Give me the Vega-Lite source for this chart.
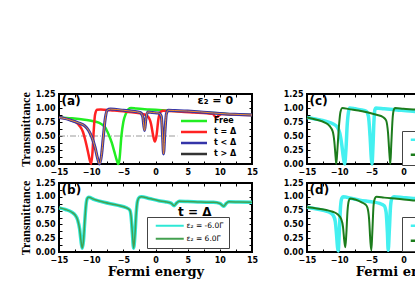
{
"$schema":"https://vega.github.io/schema/vega-lite/v6.json",
"autosize":{"type":"pad"},
"padding":{"left":18,"top":89,"right":0,"bottom":0},
"bounds":"flush",
"columns":2,
"spacing":{"row":19,"column":55},
"datasets":{
"a":[
{"s":"Free","x":-15,"y":0.83},{"s":"Free","x":-13,"y":0.815},{"s":"Free","x":-11,"y":0.79},{"s":"Free","x":-9.5,"y":0.76},{"s":"Free","x":-8.5,"y":0.72},{"s":"Free","x":-7.8,"y":0.65},{"s":"Free","x":-7.3,"y":0.53},{"s":"Free","x":-6.8,"y":0.38},{"s":"Free","x":-6.4,"y":0.22},{"s":"Free","x":-6.0,"y":0.06},{"s":"Free","x":-5.8,"y":0.0},{"s":"Free","x":-5.6,"y":0.08},{"s":"Free","x":-5.3,"y":0.5},{"s":"Free","x":-5.0,"y":0.75},{"s":"Free","x":-4.6,"y":0.9},{"s":"Free","x":-4.2,"y":0.98},{"s":"Free","x":-3.8,"y":1.0},{"s":"Free","x":-3,"y":0.99},{"s":"Free","x":-1,"y":0.975},{"s":"Free","x":1,"y":0.96},{"s":"Free","x":3,"y":0.945},{"s":"Free","x":5,"y":0.935},{"s":"Free","x":7,"y":0.925},{"s":"Free","x":9,"y":0.91},{"s":"Free","x":11,"y":0.895},{"s":"Free","x":13,"y":0.885},{"s":"Free","x":15,"y":0.875},
{"s":"t = Δ","x":-15,"y":0.83},{"s":"t = Δ","x":-14,"y":0.81},{"s":"t = Δ","x":-13,"y":0.78},{"s":"t = Δ","x":-12.3,"y":0.74},{"s":"t = Δ","x":-11.8,"y":0.68},{"s":"t = Δ","x":-11.3,"y":0.58},{"s":"t = Δ","x":-10.9,"y":0.42},{"s":"t = Δ","x":-10.5,"y":0.22},{"s":"t = Δ","x":-10.2,"y":0.06},{"s":"t = Δ","x":-10.0,"y":0.0},{"s":"t = Δ","x":-9.8,"y":0.2},{"s":"t = Δ","x":-9.6,"y":0.6},{"s":"t = Δ","x":-9.4,"y":0.88},{"s":"t = Δ","x":-9.1,"y":0.97},{"s":"t = Δ","x":-8.5,"y":0.975},{"s":"t = Δ","x":-7,"y":0.96},{"s":"t = Δ","x":-5,"y":0.94},{"s":"t = Δ","x":-3,"y":0.915},{"s":"t = Δ","x":-2,"y":0.895},{"s":"t = Δ","x":-1.2,"y":0.85},{"s":"t = Δ","x":-0.7,"y":0.72},{"s":"t = Δ","x":-0.35,"y":0.5},{"s":"t = Δ","x":-0.1,"y":0.4},{"s":"t = Δ","x":0.15,"y":0.5},{"s":"t = Δ","x":0.45,"y":0.8},{"s":"t = Δ","x":0.8,"y":0.93},{"s":"t = Δ","x":1.2,"y":0.95},{"s":"t = Δ","x":2,"y":0.945},{"s":"t = Δ","x":4,"y":0.935},{"s":"t = Δ","x":6,"y":0.92},{"s":"t = Δ","x":8,"y":0.905},{"s":"t = Δ","x":8.9,"y":0.895},{"s":"t = Δ","x":9.4,"y":0.83},{"s":"t = Δ","x":9.8,"y":0.86},{"s":"t = Δ","x":10.3,"y":0.895},{"s":"t = Δ","x":12,"y":0.885},{"s":"t = Δ","x":15,"y":0.875},
{"s":"t < Δ","x":-15,"y":0.83},{"s":"t < Δ","x":-14,"y":0.81},{"s":"t < Δ","x":-13,"y":0.775},{"s":"t < Δ","x":-12,"y":0.735},{"s":"t < Δ","x":-11,"y":0.68},{"s":"t < Δ","x":-10.4,"y":0.6},{"s":"t < Δ","x":-9.9,"y":0.48},{"s":"t < Δ","x":-9.4,"y":0.3},{"s":"t < Δ","x":-9.0,"y":0.1},{"s":"t < Δ","x":-8.7,"y":0.0},{"s":"t < Δ","x":-8.4,"y":0.15},{"s":"t < Δ","x":-8.1,"y":0.5},{"s":"t < Δ","x":-7.8,"y":0.82},{"s":"t < Δ","x":-7.5,"y":0.96},{"s":"t < Δ","x":-7.0,"y":0.98},{"s":"t < Δ","x":-5,"y":0.96},{"s":"t < Δ","x":-3.5,"y":0.94},{"s":"t < Δ","x":-2.4,"y":0.92},{"s":"t < Δ","x":-2.0,"y":0.85},{"s":"t < Δ","x":-1.7,"y":0.6},{"s":"t < Δ","x":-1.5,"y":0.8},{"s":"t < Δ","x":-1.2,"y":0.93},{"s":"t < Δ","x":-0.5,"y":0.92},{"s":"t < Δ","x":0.5,"y":0.91},{"s":"t < Δ","x":0.9,"y":0.85},{"s":"t < Δ","x":1.1,"y":0.5},{"s":"t < Δ","x":1.25,"y":0.18},{"s":"t < Δ","x":1.45,"y":0.55},{"s":"t < Δ","x":1.7,"y":0.9},{"s":"t < Δ","x":2.0,"y":0.96},{"s":"t < Δ","x":3,"y":0.955},{"s":"t < Δ","x":5,"y":0.945},{"s":"t < Δ","x":7,"y":0.93},{"s":"t < Δ","x":9,"y":0.91},{"s":"t < Δ","x":11,"y":0.895},{"s":"t < Δ","x":13,"y":0.885},{"s":"t < Δ","x":15,"y":0.875}
],
"b":[
{"s":"ε₂ = -6.0Γ","x":-15,"y":0.8},{"s":"ε₂ = -6.0Γ","x":-14,"y":0.77},{"s":"ε₂ = -6.0Γ","x":-13,"y":0.72},{"s":"ε₂ = -6.0Γ","x":-12.5,"y":0.67},{"s":"ε₂ = -6.0Γ","x":-12.1,"y":0.58},{"s":"ε₂ = -6.0Γ","x":-11.8,"y":0.42},{"s":"ε₂ = -6.0Γ","x":-11.6,"y":0.22},{"s":"ε₂ = -6.0Γ","x":-11.4,"y":0.07},{"s":"ε₂ = -6.0Γ","x":-11.2,"y":0.2},{"s":"ε₂ = -6.0Γ","x":-11.0,"y":0.55},{"s":"ε₂ = -6.0Γ","x":-10.8,"y":0.85},{"s":"ε₂ = -6.0Γ","x":-10.6,"y":0.97},{"s":"ε₂ = -6.0Γ","x":-10.4,"y":0.99},{"s":"ε₂ = -6.0Γ","x":-9.5,"y":0.95},{"s":"ε₂ = -6.0Γ","x":-8,"y":0.9},{"s":"ε₂ = -6.0Γ","x":-6,"y":0.85},{"s":"ε₂ = -6.0Γ","x":-4.5,"y":0.8},{"s":"ε₂ = -6.0Γ","x":-4.0,"y":0.76},{"s":"ε₂ = -6.0Γ","x":-3.8,"y":0.65},{"s":"ε₂ = -6.0Γ","x":-3.6,"y":0.35},{"s":"ε₂ = -6.0Γ","x":-3.4,"y":0.07},{"s":"ε₂ = -6.0Γ","x":-3.2,"y":0.3},{"s":"ε₂ = -6.0Γ","x":-3.0,"y":0.7},{"s":"ε₂ = -6.0Γ","x":-2.8,"y":0.92},{"s":"ε₂ = -6.0Γ","x":-2.5,"y":0.99},{"s":"ε₂ = -6.0Γ","x":-2.2,"y":1.0},{"s":"ε₂ = -6.0Γ","x":-1,"y":0.97},{"s":"ε₂ = -6.0Γ","x":0.5,"y":0.93},{"s":"ε₂ = -6.0Γ","x":1.5,"y":0.91},{"s":"ε₂ = -6.0Γ","x":2.4,"y":0.885},{"s":"ε₂ = -6.0Γ","x":2.9,"y":0.84},{"s":"ε₂ = -6.0Γ","x":3.3,"y":0.89},{"s":"ε₂ = -6.0Γ","x":3.7,"y":0.92},{"s":"ε₂ = -6.0Γ","x":5,"y":0.915},{"s":"ε₂ = -6.0Γ","x":7,"y":0.905},{"s":"ε₂ = -6.0Γ","x":9,"y":0.9},{"s":"ε₂ = -6.0Γ","x":10.0,"y":0.88},{"s":"ε₂ = -6.0Γ","x":10.6,"y":0.83},{"s":"ε₂ = -6.0Γ","x":11.0,"y":0.88},{"s":"ε₂ = -6.0Γ","x":11.4,"y":0.91},{"s":"ε₂ = -6.0Γ","x":13,"y":0.905},{"s":"ε₂ = -6.0Γ","x":15,"y":0.9},
{"s":"ε₂ = 6.0Γ","x":-15,"y":0.8},{"s":"ε₂ = 6.0Γ","x":-14,"y":0.77},{"s":"ε₂ = 6.0Γ","x":-13,"y":0.72},{"s":"ε₂ = 6.0Γ","x":-12.5,"y":0.67},{"s":"ε₂ = 6.0Γ","x":-12.1,"y":0.58},{"s":"ε₂ = 6.0Γ","x":-11.8,"y":0.42},{"s":"ε₂ = 6.0Γ","x":-11.6,"y":0.22},{"s":"ε₂ = 6.0Γ","x":-11.4,"y":0.07},{"s":"ε₂ = 6.0Γ","x":-11.2,"y":0.2},{"s":"ε₂ = 6.0Γ","x":-11.0,"y":0.55},{"s":"ε₂ = 6.0Γ","x":-10.8,"y":0.85},{"s":"ε₂ = 6.0Γ","x":-10.6,"y":0.97},{"s":"ε₂ = 6.0Γ","x":-10.4,"y":0.99},{"s":"ε₂ = 6.0Γ","x":-9.5,"y":0.95},{"s":"ε₂ = 6.0Γ","x":-8,"y":0.9},{"s":"ε₂ = 6.0Γ","x":-6,"y":0.85},{"s":"ε₂ = 6.0Γ","x":-4.5,"y":0.8},{"s":"ε₂ = 6.0Γ","x":-4.0,"y":0.76},{"s":"ε₂ = 6.0Γ","x":-3.8,"y":0.65},{"s":"ε₂ = 6.0Γ","x":-3.6,"y":0.35},{"s":"ε₂ = 6.0Γ","x":-3.4,"y":0.07},{"s":"ε₂ = 6.0Γ","x":-3.2,"y":0.3},{"s":"ε₂ = 6.0Γ","x":-3.0,"y":0.7},{"s":"ε₂ = 6.0Γ","x":-2.8,"y":0.92},{"s":"ε₂ = 6.0Γ","x":-2.5,"y":0.99},{"s":"ε₂ = 6.0Γ","x":-2.2,"y":1.0},{"s":"ε₂ = 6.0Γ","x":-1,"y":0.97},{"s":"ε₂ = 6.0Γ","x":0.5,"y":0.93},{"s":"ε₂ = 6.0Γ","x":1.5,"y":0.91},{"s":"ε₂ = 6.0Γ","x":2.4,"y":0.885},{"s":"ε₂ = 6.0Γ","x":2.9,"y":0.84},{"s":"ε₂ = 6.0Γ","x":3.3,"y":0.89},{"s":"ε₂ = 6.0Γ","x":3.7,"y":0.92},{"s":"ε₂ = 6.0Γ","x":5,"y":0.915},{"s":"ε₂ = 6.0Γ","x":7,"y":0.905},{"s":"ε₂ = 6.0Γ","x":9,"y":0.9},{"s":"ε₂ = 6.0Γ","x":10.0,"y":0.88},{"s":"ε₂ = 6.0Γ","x":10.6,"y":0.83},{"s":"ε₂ = 6.0Γ","x":11.0,"y":0.88},{"s":"ε₂ = 6.0Γ","x":11.4,"y":0.91},{"s":"ε₂ = 6.0Γ","x":13,"y":0.905},{"s":"ε₂ = 6.0Γ","x":15,"y":0.9}
],
"c":[
{"s":"ε₂ = -6.0Γ","x":-15,"y":0.83},{"s":"ε₂ = -6.0Γ","x":-13.5,"y":0.8},{"s":"ε₂ = -6.0Γ","x":-12,"y":0.76},{"s":"ε₂ = -6.0Γ","x":-11,"y":0.72},{"s":"ε₂ = -6.0Γ","x":-10.3,"y":0.66},{"s":"ε₂ = -6.0Γ","x":-9.9,"y":0.55},{"s":"ε₂ = -6.0Γ","x":-9.6,"y":0.35},{"s":"ε₂ = -6.0Γ","x":-9.35,"y":0.12},{"s":"ε₂ = -6.0Γ","x":-9.15,"y":0.0},{"s":"ε₂ = -6.0Γ","x":-8.95,"y":0.25},{"s":"ε₂ = -6.0Γ","x":-8.75,"y":0.7},{"s":"ε₂ = -6.0Γ","x":-8.55,"y":0.93},{"s":"ε₂ = -6.0Γ","x":-8.35,"y":1.0},{"s":"ε₂ = -6.0Γ","x":-7.5,"y":0.985},{"s":"ε₂ = -6.0Γ","x":-6.5,"y":0.965},{"s":"ε₂ = -6.0Γ","x":-5.8,"y":0.94},{"s":"ε₂ = -6.0Γ","x":-5.45,"y":0.85},{"s":"ε₂ = -6.0Γ","x":-5.2,"y":0.5},{"s":"ε₂ = -6.0Γ","x":-5.0,"y":0.1},{"s":"ε₂ = -6.0Γ","x":-4.9,"y":0.0},{"s":"ε₂ = -6.0Γ","x":-4.75,"y":0.3},{"s":"ε₂ = -6.0Γ","x":-4.6,"y":0.75},{"s":"ε₂ = -6.0Γ","x":-4.45,"y":0.97},{"s":"ε₂ = -6.0Γ","x":-4.3,"y":1.0},{"s":"ε₂ = -6.0Γ","x":-3,"y":0.985},{"s":"ε₂ = -6.0Γ","x":-1,"y":0.965},{"s":"ε₂ = -6.0Γ","x":1,"y":0.945},{"s":"ε₂ = -6.0Γ","x":3,"y":0.93},{"s":"ε₂ = -6.0Γ","x":6,"y":0.915},{"s":"ε₂ = -6.0Γ","x":9,"y":0.905},{"s":"ε₂ = -6.0Γ","x":12,"y":0.895},{"s":"ε₂ = -6.0Γ","x":15,"y":0.885},
{"s":"ε₂ = 6.0Γ","x":-15,"y":0.83},{"s":"ε₂ = 6.0Γ","x":-13.5,"y":0.79},{"s":"ε₂ = 6.0Γ","x":-12.3,"y":0.745},{"s":"ε₂ = 6.0Γ","x":-11.5,"y":0.68},{"s":"ε₂ = 6.0Γ","x":-11.0,"y":0.58},{"s":"ε₂ = 6.0Γ","x":-10.75,"y":0.4},{"s":"ε₂ = 6.0Γ","x":-10.55,"y":0.12},{"s":"ε₂ = 6.0Γ","x":-10.45,"y":0.0},{"s":"ε₂ = 6.0Γ","x":-10.25,"y":0.3},{"s":"ε₂ = 6.0Γ","x":-10.0,"y":0.72},{"s":"ε₂ = 6.0Γ","x":-9.8,"y":0.93},{"s":"ε₂ = 6.0Γ","x":-9.5,"y":1.0},{"s":"ε₂ = 6.0Γ","x":-8.5,"y":0.98},{"s":"ε₂ = 6.0Γ","x":-7,"y":0.955},{"s":"ε₂ = 6.0Γ","x":-5.5,"y":0.92},{"s":"ε₂ = 6.0Γ","x":-4.2,"y":0.88},{"s":"ε₂ = 6.0Γ","x":-3.2,"y":0.84},{"s":"ε₂ = 6.0Γ","x":-2.7,"y":0.78},{"s":"ε₂ = 6.0Γ","x":-2.4,"y":0.55},{"s":"ε₂ = 6.0Γ","x":-2.2,"y":0.2},{"s":"ε₂ = 6.0Γ","x":-2.05,"y":0.0},{"s":"ε₂ = 6.0Γ","x":-1.9,"y":0.35},{"s":"ε₂ = 6.0Γ","x":-1.7,"y":0.8},{"s":"ε₂ = 6.0Γ","x":-1.5,"y":0.97},{"s":"ε₂ = 6.0Γ","x":-1.3,"y":1.0},{"s":"ε₂ = 6.0Γ","x":0,"y":0.985},{"s":"ε₂ = 6.0Γ","x":1.5,"y":0.975},{"s":"ε₂ = 6.0Γ","x":4,"y":0.955},{"s":"ε₂ = 6.0Γ","x":7,"y":0.935},{"s":"ε₂ = 6.0Γ","x":10,"y":0.915},{"s":"ε₂ = 6.0Γ","x":15,"y":0.89}
],
"d":[
{"s":"ε₂ = -6.0Γ","x":-15,"y":0.81},{"s":"ε₂ = -6.0Γ","x":-13.5,"y":0.78},{"s":"ε₂ = -6.0Γ","x":-12.3,"y":0.75},{"s":"ε₂ = -6.0Γ","x":-11.5,"y":0.72},{"s":"ε₂ = -6.0Γ","x":-10.9,"y":0.66},{"s":"ε₂ = -6.0Γ","x":-10.6,"y":0.55},{"s":"ε₂ = -6.0Γ","x":-10.4,"y":0.3},{"s":"ε₂ = -6.0Γ","x":-10.25,"y":0.08},{"s":"ε₂ = -6.0Γ","x":-10.15,"y":0.02},{"s":"ε₂ = -6.0Γ","x":-10.0,"y":0.3},{"s":"ε₂ = -6.0Γ","x":-9.8,"y":0.8},{"s":"ε₂ = -6.0Γ","x":-9.6,"y":0.97},{"s":"ε₂ = -6.0Γ","x":-9.4,"y":1.0},{"s":"ε₂ = -6.0Γ","x":-8,"y":0.97},{"s":"ε₂ = -6.0Γ","x":-6.8,"y":0.94},{"s":"ε₂ = -6.0Γ","x":-5,"y":0.91},{"s":"ε₂ = -6.0Γ","x":-3.7,"y":0.88},{"s":"ε₂ = -6.0Γ","x":-3.0,"y":0.84},{"s":"ε₂ = -6.0Γ","x":-2.7,"y":0.72},{"s":"ε₂ = -6.0Γ","x":-2.5,"y":0.35},{"s":"ε₂ = -6.0Γ","x":-2.38,"y":0.03},{"s":"ε₂ = -6.0Γ","x":-2.2,"y":0.4},{"s":"ε₂ = -6.0Γ","x":-2.0,"y":0.85},{"s":"ε₂ = -6.0Γ","x":-1.8,"y":0.97},{"s":"ε₂ = -6.0Γ","x":-1.5,"y":1.0},{"s":"ε₂ = -6.0Γ","x":0,"y":0.985},{"s":"ε₂ = -6.0Γ","x":1.5,"y":0.97},{"s":"ε₂ = -6.0Γ","x":4,"y":0.95},{"s":"ε₂ = -6.0Γ","x":7,"y":0.935},{"s":"ε₂ = -6.0Γ","x":10,"y":0.92},{"s":"ε₂ = -6.0Γ","x":15,"y":0.9},
{"s":"ε₂ = 6.0Γ","x":-15,"y":0.81},{"s":"ε₂ = 6.0Γ","x":-13.5,"y":0.79},{"s":"ε₂ = 6.0Γ","x":-12,"y":0.76},{"s":"ε₂ = 6.0Γ","x":-11,"y":0.73},{"s":"ε₂ = 6.0Γ","x":-10.2,"y":0.68},{"s":"ε₂ = 6.0Γ","x":-9.7,"y":0.6},{"s":"ε₂ = 6.0Γ","x":-9.4,"y":0.45},{"s":"ε₂ = 6.0Γ","x":-9.2,"y":0.2},{"s":"ε₂ = 6.0Γ","x":-9.05,"y":0.085},{"s":"ε₂ = 6.0Γ","x":-8.9,"y":0.3},{"s":"ε₂ = 6.0Γ","x":-8.7,"y":0.75},{"s":"ε₂ = 6.0Γ","x":-8.5,"y":0.93},{"s":"ε₂ = 6.0Γ","x":-8.3,"y":0.97},{"s":"ε₂ = 6.0Γ","x":-7.5,"y":0.95},{"s":"ε₂ = 6.0Γ","x":-6.5,"y":0.9},{"s":"ε₂ = 6.0Γ","x":-5.9,"y":0.86},{"s":"ε₂ = 6.0Γ","x":-5.6,"y":0.8},{"s":"ε₂ = 6.0Γ","x":-5.35,"y":0.6},{"s":"ε₂ = 6.0Γ","x":-5.15,"y":0.2},{"s":"ε₂ = 6.0Γ","x":-5.0,"y":0.03},{"s":"ε₂ = 6.0Γ","x":-4.85,"y":0.35},{"s":"ε₂ = 6.0Γ","x":-4.65,"y":0.85},{"s":"ε₂ = 6.0Γ","x":-4.45,"y":0.97},{"s":"ε₂ = 6.0Γ","x":-4.2,"y":1.0},{"s":"ε₂ = 6.0Γ","x":-3,"y":0.985},{"s":"ε₂ = 6.0Γ","x":-1,"y":0.965},{"s":"ε₂ = 6.0Γ","x":1.5,"y":0.935},{"s":"ε₂ = 6.0Γ","x":4,"y":0.92},{"s":"ε₂ = 6.0Γ","x":7,"y":0.91},{"s":"ε₂ = 6.0Γ","x":10,"y":0.9},{"s":"ε₂ = 6.0Γ","x":15,"y":0.89}
]
},
"concat":[
{
"width":193,"height":70,
"data":{"name":"a"},
"layer":[
{"data":{"values":[{}]},"mark":{"type":"rule","color":"#9a9a9a","strokeWidth":1,"strokeDash":[6,2,1,2]},"encoding":{"x":{"datum":-15,"type":"quantitative","axis":null},"x2":{"datum":3.4},"y":{"datum":0.5,"type":"quantitative","axis":null}}},
{"transform":[{"filter":"datum.s === 'Free'"}],"mark":{"type":"line","interpolate":"monotone","strokeWidth":2.5},
"encoding":{"x":{"field":"x","type":"quantitative","scale":{"domain":[-15,15],"nice":false,"zero":false},"axis":{"orient":"bottom","values":[-15,-12.5,-10,-7.5,-5,-2.5,0,2.5,5,7.5,10,12.5,15],"labelExpr":"datum.value % 5 === 0 ? datum.label : ''","title":null}},
"y":{"field":"y","type":"quantitative","scale":{"domain":[0,1.25],"nice":false},"axis":{"orient":"left","values":[0,0.125,0.25,0.375,0.5,0.625,0.75,0.875,1,1.125,1.25],"format":".2f","labelExpr":"(datum.value * 4) % 1 === 0 ? datum.label : ''","title":"Transmittance"}},
"color":{"field":"s","type":"nominal","scale":{"domain":["Free","t = Δ","t < Δ","t > Δ"],"range":["#22ee22","#ff2222","#3434a8","#333333"]},
"legend":{"orient":"none","legendX":118,"legendY":23,"title":null,"padding":0,"symbolType":"M0,0H13","symbolSize":16,"symbolStrokeWidth":2.5,"labelFont":"DejaVu Sans","labelFontWeight":"bold","labelFontSize":8,"labelOffset":29,"rowPadding":1,"zindex":1}}}},
{"transform":[{"filter":"datum.s === 't = Δ'"}],"mark":{"type":"line","interpolate":"monotone","strokeWidth":2.5},
"encoding":{"x":{"field":"x","type":"quantitative","axis":null},"y":{"field":"y","type":"quantitative","axis":null},"color":{"field":"s","type":"nominal"}}},
{"transform":[{"filter":"datum.s === 't < Δ'"}],"mark":{"type":"line","interpolate":"monotone","strokeWidth":3},
"encoding":{"x":{"field":"x","type":"quantitative","axis":null},"y":{"field":"y","type":"quantitative","axis":null},"color":{"field":"s","type":"nominal"}}},
{"transform":[{"filter":"datum.s === 't < Δ'"}],"mark":{"type":"line","interpolate":"monotone","strokeWidth":1,"color":"#f09030"},
"encoding":{"x":{"field":"x","type":"quantitative","axis":{"orient":"top","values":[-15,-12.5,-10,-7.5,-5,-2.5,0,2.5,5,7.5,10,12.5,15],"labels":false,"title":null}},"y":{"field":"y","type":"quantitative","axis":{"orient":"right","values":[0,0.125,0.25,0.375,0.5,0.625,0.75,0.875,1,1.125,1.25],"labels":false,"title":null}}}},
{"data":{"values":[{}]},"mark":{"type":"text","text":"(a)","align":"left","baseline":"middle","font":"DejaVu Sans","fontWeight":"bold","fontSize":12},"encoding":{"x":{"datum":-14.6,"type":"quantitative","axis":null},"y":{"datum":1.13,"type":"quantitative","axis":null}}},
{"data":{"values":[{}]},"mark":{"type":"text","text":"ε₂ = 0","align":"center","baseline":"middle","font":"DejaVu Sans","fontWeight":"bold","fontSize":11},"encoding":{"x":{"datum":9.3,"type":"quantitative","axis":null},"y":{"datum":1.13,"type":"quantitative","axis":null}}}
],
"resolve":{"axis":{"x":"independent","y":"independent"}}
},
{
"width":193,"height":70,
"data":{"name":"c"},
"layer":[
{"transform":[{"filter":"datum.s === 'ε₂ = -6.0Γ'"}],"mark":{"type":"line","interpolate":"monotone","strokeWidth":3.5},
"encoding":{"x":{"field":"x","type":"quantitative","scale":{"domain":[-15,15],"nice":false,"zero":false},"axis":{"orient":"bottom","values":[-15,-12.5,-10,-7.5,-5,-2.5,0,2.5,5,7.5,10,12.5,15],"labelExpr":"datum.value % 5 === 0 ? datum.label : ''","title":null}},
"y":{"field":"y","type":"quantitative","scale":{"domain":[0,1.25],"nice":false},"axis":{"orient":"left","values":[0,0.125,0.25,0.375,0.5,0.625,0.75,0.875,1,1.125,1.25],"format":".2f","labelExpr":"(datum.value * 4) % 1 === 0 ? datum.label : ''","title":null}},
"color":{"field":"s","type":"nominal","scale":{"domain":["ε₂ = -6.0Γ","ε₂ = 6.0Γ"],"range":["#44f0f0","#1c7c1c"]},
"legend":{"orient":"none","legendX":95,"legendY":37,"title":null,"padding":5,"strokeColor":"#444444","fillColor":"white","symbolType":"M0,0H14","symbolSize":16,"symbolStrokeWidth":2.5,"labelFont":"DejaVu Sans","labelFontSize":7.5,"labelOffset":27,"rowPadding":4,"zindex":1}}}},
{"transform":[{"filter":"datum.s === 'ε₂ = 6.0Γ'"}],"mark":{"type":"line","interpolate":"monotone","strokeWidth":2},
"encoding":{"x":{"field":"x","type":"quantitative","axis":{"orient":"top","values":[-15,-12.5,-10,-7.5,-5,-2.5,0,2.5,5,7.5,10,12.5,15],"labels":false,"title":null}},"y":{"field":"y","type":"quantitative","axis":{"orient":"right","values":[0,0.125,0.25,0.375,0.5,0.625,0.75,0.875,1,1.125,1.25],"labels":false,"title":null}},"color":{"field":"s","type":"nominal"}}},
{"data":{"values":[{}]},"mark":{"type":"text","text":"(c)","align":"left","baseline":"middle","font":"DejaVu Sans","fontWeight":"bold","fontSize":12},"encoding":{"x":{"datum":-14.6,"type":"quantitative","axis":null},"y":{"datum":1.13,"type":"quantitative","axis":null}}}
],
"resolve":{"axis":{"x":"independent","y":"independent"}}
},
{
"width":193,"height":69,
"data":{"name":"b"},
"layer":[
{"transform":[{"filter":"datum.s === 'ε₂ = -6.0Γ'"}],"mark":{"type":"line","interpolate":"monotone","strokeWidth":3.5},
"encoding":{"x":{"field":"x","type":"quantitative","scale":{"domain":[-15,15],"nice":false,"zero":false},"axis":{"orient":"bottom","values":[-15,-12.5,-10,-7.5,-5,-2.5,0,2.5,5,7.5,10,12.5,15],"labelExpr":"datum.value % 5 === 0 ? datum.label : ''","title":"Fermi energy"}},
"y":{"field":"y","type":"quantitative","scale":{"domain":[0,1.25],"nice":false},"axis":{"orient":"left","values":[0,0.125,0.25,0.375,0.5,0.625,0.75,0.875,1,1.125,1.25],"format":".2f","labelExpr":"(datum.value * 4) % 1 === 0 ? datum.label : ''","title":"Transmittance"}},
"color":{"field":"s","type":"nominal","scale":{"domain":["ε₂ = -6.0Γ","ε₂ = 6.0Γ"],"range":["#2ee8d6","#44a050"]},
"legend":{"orient":"none","legendX":88,"legendY":34,"title":null,"padding":5,"strokeColor":"#444444","fillColor":"white","symbolType":"M0,0H14","symbolSize":16,"symbolStrokeWidth":2,"labelFont":"DejaVu Sans","labelFontSize":7.5,"labelOffset":27,"rowPadding":4,"zindex":1}}}},
{"transform":[{"filter":"datum.s === 'ε₂ = 6.0Γ'"}],"mark":{"type":"line","interpolate":"monotone","strokeWidth":1.5},
"encoding":{"x":{"field":"x","type":"quantitative","axis":{"orient":"top","values":[-15,-12.5,-10,-7.5,-5,-2.5,0,2.5,5,7.5,10,12.5,15],"labels":false,"title":null}},"y":{"field":"y","type":"quantitative","axis":{"orient":"right","values":[0,0.125,0.25,0.375,0.5,0.625,0.75,0.875,1,1.125,1.25],"labels":false,"title":null}},"color":{"field":"s","type":"nominal"}}},
{"data":{"values":[{}]},"mark":{"type":"text","text":"(b)","align":"left","baseline":"middle","font":"DejaVu Sans","fontWeight":"bold","fontSize":12},"encoding":{"x":{"datum":-14.6,"type":"quantitative","axis":null},"y":{"datum":1.12,"type":"quantitative","axis":null}}},
{"data":{"values":[{}]},"mark":{"type":"text","text":"t = Δ","align":"center","baseline":"middle","font":"DejaVu Sans","fontWeight":"bold","fontSize":12},"encoding":{"x":{"datum":6.1,"type":"quantitative","axis":null},"y":{"datum":0.73,"type":"quantitative","axis":null}}}
],
"resolve":{"axis":{"x":"independent","y":"independent"}}
},
{
"width":193,"height":69,
"data":{"name":"d"},
"layer":[
{"transform":[{"filter":"datum.s === 'ε₂ = -6.0Γ'"}],"mark":{"type":"line","interpolate":"monotone","strokeWidth":3.5},
"encoding":{"x":{"field":"x","type":"quantitative","scale":{"domain":[-15,15],"nice":false,"zero":false},"axis":{"orient":"bottom","values":[-15,-12.5,-10,-7.5,-5,-2.5,0,2.5,5,7.5,10,12.5,15],"labelExpr":"datum.value % 5 === 0 ? datum.label : ''","title":"Fermi energy"}},
"y":{"field":"y","type":"quantitative","scale":{"domain":[0,1.25],"nice":false},"axis":{"orient":"left","values":[0,0.125,0.25,0.375,0.5,0.625,0.75,0.875,1,1.125,1.25],"format":".2f","labelExpr":"(datum.value * 4) % 1 === 0 ? datum.label : ''","title":null}},
"color":{"field":"s","type":"nominal","scale":{"domain":["ε₂ = -6.0Γ","ε₂ = 6.0Γ"],"range":["#44f0f0","#1c7c1c"]},
"legend":{"orient":"none","legendX":95,"legendY":34,"title":null,"padding":5,"strokeColor":"#444444","fillColor":"white","symbolType":"M0,0H14","symbolSize":16,"symbolStrokeWidth":2.5,"labelFont":"DejaVu Sans","labelFontSize":7.5,"labelOffset":27,"rowPadding":4,"zindex":1}}}},
{"transform":[{"filter":"datum.s === 'ε₂ = 6.0Γ'"}],"mark":{"type":"line","interpolate":"monotone","strokeWidth":2},
"encoding":{"x":{"field":"x","type":"quantitative","axis":{"orient":"top","values":[-15,-12.5,-10,-7.5,-5,-2.5,0,2.5,5,7.5,10,12.5,15],"labels":false,"title":null}},"y":{"field":"y","type":"quantitative","axis":{"orient":"right","values":[0,0.125,0.25,0.375,0.5,0.625,0.75,0.875,1,1.125,1.25],"labels":false,"title":null}},"color":{"field":"s","type":"nominal"}}},
{"data":{"values":[{}]},"mark":{"type":"text","text":"(d)","align":"left","baseline":"middle","font":"DejaVu Sans","fontWeight":"bold","fontSize":12},"encoding":{"x":{"datum":-14.6,"type":"quantitative","axis":null},"y":{"datum":1.12,"type":"quantitative","axis":null}}}
],
"resolve":{"axis":{"x":"independent","y":"independent"}}
}
],
"resolve":{"scale":{"color":"independent","x":"independent","y":"independent"},"legend":{"color":"independent"}},
"config":{
"view":{"stroke":"black","strokeWidth":2},
"axis":{"domain":false,"grid":false,"ticks":true,"tickSize":-3,"tickColor":"black","tickWidth":1,"labelFont":"DejaVu Sans","labelFontWeight":"bold","labelFontSize":8,"labelColor":"black","labelPadding":7,"labelFlush":false,"labelOverlap":false,"titleColor":"black","titleFontWeight":"bold"},
"axisX":{"titleFont":"DejaVu Serif","titleFontSize":13,"titlePadding":1},
"axisY":{"titleFont":"Liberation Serif","titleFontSize":12,"titlePadding":3},
"legend":{"labelColor":"black"}
}
}
